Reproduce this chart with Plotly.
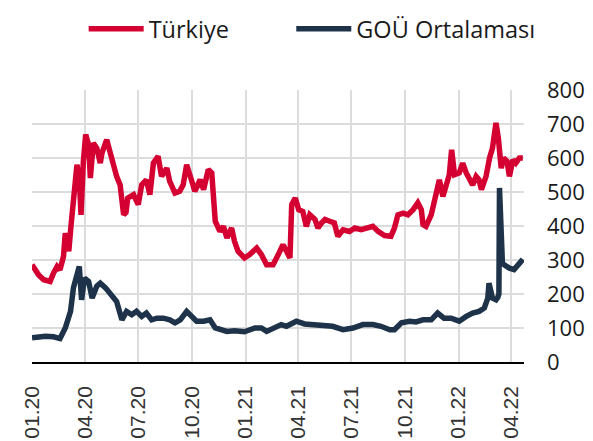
import plotly.graph_objects as go

# ---- data ----
tr_dates = [
    "2020-01-01", "2020-01-12", "2020-01-21", "2020-02-01", "2020-02-07", "2020-02-13", "2020-02-18",
    "2020-02-24", "2020-02-27", "2020-03-04", "2020-03-08", "2020-03-12", "2020-03-18", "2020-03-22",
    "2020-03-25", "2020-03-29", "2020-04-02", "2020-04-07", "2020-04-10", "2020-04-15", "2020-04-21",
    "2020-04-27", "2020-04-30", "2020-05-08", "2020-05-14", "2020-05-20", "2020-05-25", "2020-05-31",
    "2020-06-06", "2020-06-10", "2020-06-13", "2020-06-23", "2020-07-01", "2020-07-07", "2020-07-15",
    "2020-07-21", "2020-07-27", "2020-08-04", "2020-08-10", "2020-08-19", "2020-08-24", "2020-09-02",
    "2020-09-10", "2020-09-16", "2020-09-22", "2020-10-01", "2020-10-06", "2020-10-15", "2020-10-21",
    "2020-10-29", "2020-11-04", "2020-11-10", "2020-11-18", "2020-11-24", "2020-11-30", "2020-12-02",
    "2020-12-08", "2020-12-13", "2020-12-19", "2020-12-30", "2021-01-08", "2021-01-20", "2021-01-28",
    "2021-02-06", "2021-02-17", "2021-02-26", "2021-03-06", "2021-03-12", "2021-03-18", "2021-03-21",
    "2021-03-27", "2021-04-02", "2021-04-09", "2021-04-15", "2021-04-21", "2021-04-30", "2021-05-05",
    "2021-05-11", "2021-05-17", "2021-05-25", "2021-06-02", "2021-06-08", "2021-06-17", "2021-06-28",
    "2021-07-07", "2021-07-18", "2021-07-29", "2021-08-07", "2021-08-16", "2021-08-27", "2021-09-07",
    "2021-09-13", "2021-09-19", "2021-09-28", "2021-10-06", "2021-10-15", "2021-10-23", "2021-10-29",
    "2021-11-01", "2021-11-06", "2021-11-15", "2021-11-23", "2021-11-29", "2021-12-05", "2021-12-10",
    "2021-12-16", "2021-12-20", "2021-12-25", "2022-01-02", "2022-01-08", "2022-01-14", "2022-01-19",
    "2022-01-25", "2022-01-31", "2022-02-05", "2022-02-09", "2022-02-17", "2022-02-23", "2022-02-28",
    "2022-03-06", "2022-03-10", "2022-03-15", "2022-03-19", "2022-03-25", "2022-03-29", "2022-04-04",
    "2022-04-09", "2022-04-15", "2022-04-21",
]
tr_values = [
    286, 257, 242, 237, 262, 281, 271,
    311, 379, 326, 404, 482, 580, 541,
    433, 590, 669, 639, 541, 644, 629,
    585, 615, 654, 610, 580, 546, 521,
    433, 440, 482, 492, 463, 521, 536,
    492, 585, 605, 546, 570, 531, 497,
    502, 521, 580, 531, 502, 536, 507,
    566, 556, 414, 384, 399, 365, 374,
    394, 355, 326, 306, 316, 335, 316,
    286, 286, 316, 345, 326, 306, 463,
    482, 448, 443, 399, 433, 419, 394,
    409, 419, 414, 409, 370, 389, 384,
    394, 389, 394, 399, 384, 372, 370,
    394, 433, 438, 433, 448, 468, 448,
    404, 399, 433, 502, 536, 487, 512,
    551, 624, 551, 556, 585, 556, 536,
    521, 546, 536, 507, 546, 600, 629,
    703, 659, 570, 600, 590, 546, 595,
    585, 600, 600,
]

em_dates = [
    "2020-01-01", "2020-01-24", "2020-02-07", "2020-02-18", "2020-02-27", "2020-03-07", "2020-03-12",
    "2020-03-18", "2020-03-22", "2020-03-26", "2020-03-31", "2020-04-07", "2020-04-13", "2020-04-21",
    "2020-04-27", "2020-05-06", "2020-05-17", "2020-05-25", "2020-06-03", "2020-06-09", "2020-06-11",
    "2020-06-20", "2020-06-28", "2020-07-07", "2020-07-15", "2020-07-24", "2020-08-02", "2020-08-13",
    "2020-08-24", "2020-09-02", "2020-09-11", "2020-09-22", "2020-10-01", "2020-10-09", "2020-10-21",
    "2020-11-01", "2020-11-10", "2020-11-21", "2020-11-30", "2020-12-13", "2020-12-30", "2021-01-17",
    "2021-01-28", "2021-02-06", "2021-02-20", "2021-03-03", "2021-03-12", "2021-03-21", "2021-03-29",
    "2021-04-12", "2021-04-30", "2021-05-17", "2021-05-30", "2021-06-17", "2021-07-04", "2021-07-21",
    "2021-08-07", "2021-08-21", "2021-09-05", "2021-09-13", "2021-09-25", "2021-10-09", "2021-10-20",
    "2021-11-01", "2021-11-15", "2021-11-26", "2021-12-07", "2021-12-19", "2022-01-02", "2022-01-14",
    "2022-01-25", "2022-02-05", "2022-02-14", "2022-02-20", "2022-02-22", "2022-02-28", "2022-03-06",
    "2022-03-09", "2022-03-11", "2022-03-12", "2022-03-15", "2022-03-17", "2022-03-20", "2022-03-29",
    "2022-04-06", "2022-04-15", "2022-04-21",
]
em_values = [
    71, 76, 74, 69, 100, 149, 218,
    257, 281, 183, 247, 237, 188, 223,
    232, 218, 198, 178, 124, 144, 149,
    139, 149, 134, 144, 124, 129, 129,
    124, 115, 124, 149, 134, 120, 120,
    124, 100, 95, 90, 92, 89, 100,
    100, 90, 100, 110, 105, 115, 120,
    112, 110, 105, 105, 95, 100, 110,
    110, 105, 95, 95, 115, 120, 118,
    124, 124, 144, 129, 129, 120, 134,
    144, 149, 159, 188, 232, 188, 183,
    190, 200, 512, 355, 290, 286, 276,
    272, 291, 302,
]

series_names = ["Türkiye", "GOÜ Ortalaması"]
series_colors = ["#d50032", "#1e3349"]

tick_dates = ["2020-01-01", "2020-04-01", "2020-07-01", "2020-10-01", "2021-01-01",
              "2021-04-01", "2021-07-01", "2021-10-01", "2022-01-01", "2022-04-01"]
tick_labels = ["01.20", "04.20", "07.20", "10.20", "01.21",
               "04.21", "07.21", "10.21", "01.22", "04.22"]
y_ticks = [0, 100, 200, 300, 400, 500, 600, 700, 800]

fig = go.Figure()
fig.add_trace(go.Scatter(x=tr_dates, y=tr_values, mode="lines", name=series_names[0],
                         line=dict(color=series_colors[0], width=5.5), legend="legend"))
fig.add_trace(go.Scatter(x=em_dates, y=em_values, mode="lines", name=series_names[1],
                         line=dict(color=series_colors[1], width=5.5), legend="legend2"))

legend_common = dict(orientation="h", xanchor="left", y=1.224, yanchor="middle",
                     font=dict(size=23.5, family="Open Sans", color="#1a1a1a"),
                     itemwidth=55, bgcolor="rgba(0,0,0,0)", borderwidth=0)

fig.update_layout(
    width=593, height=441,
    margin=dict(l=23.5, r=77.3, t=82, b=87, pad=0, autoexpand=False),
    paper_bgcolor="white", plot_bgcolor="white",
    font=dict(family="Open Sans", color="#1a1a1a"),
    legend=dict(x=0.105, **legend_common),
    legend2=dict(x=0.527, **legend_common),
    showlegend=True,
)
fig.update_xaxes(
    type="date", range=["2020-01-01", "2022-04-23"],
    tickvals=tick_dates, ticktext=tick_labels, tickangle=-90,
    tickfont=dict(family="Liberation Sans", size=21, color="#333333"),
    showgrid=True, gridcolor="#dcdcdc", gridwidth=1.5,
    showline=True, linecolor="#000000", linewidth=1.5,
    ticks="", ticklabelstandoff=14, zeroline=False, automargin=False,
)
fig.update_yaxes(
    side="right", range=[0, 800], tickvals=y_ticks,
    tickfont=dict(family="Open Sans", size=22, color="#1a1a1a"),
    showgrid=True, gridcolor="#dcdcdc", gridwidth=1.5,
    ticks="", ticklabelstandoff=22, zeroline=False, showline=False, automargin=False,
)

fig.write_html("out.html")
